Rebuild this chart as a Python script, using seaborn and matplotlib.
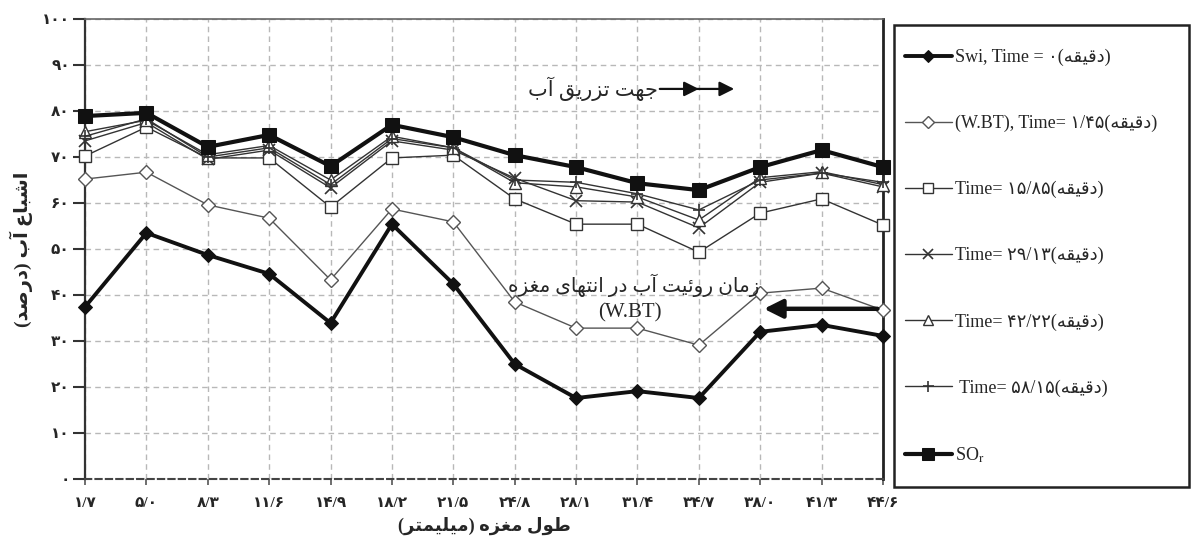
import matplotlib
matplotlib.use("Agg")
import matplotlib.pyplot as plt
from matplotlib.patches import Rectangle
import seaborn as sns
import pandas as pd

# ---------------- data ----------------
core_length_mm = [1.7, 5.0, 8.3, 11.6, 14.9, 18.2, 21.5, 24.8, 28.1, 31.4, 34.7, 38.0, 41.3, 44.6]
x_tick_labels = ["۱/۷", "۵/۰", "۸/۳", "۱۱/۶", "۱۴/۹", "۱۸/۲", "۲۱/۵",
                 "۲۴/۸", "۲۸/۱", "۳۱/۴", "۳۴/۷", "۳۸/۰", "۴۱/۳", "۴۴/۶"]
y_ticks = [0, 10, 20, 30, 40, 50, 60, 70, 80, 90, 100]
y_tick_labels = ["۰", "۱۰", "۲۰", "۳۰", "۴۰", "۵۰", "۶۰", "۷۰", "۸۰", "۹۰", "۱۰۰"]

swi_t0 = [37.4, 53.5, 48.7, 44.6, 33.9, 55.4, 42.4, 25.0, 17.6, 19.1, 17.6, 32.0, 33.5, 31.1]
wbt_t145 = [65.2, 66.7, 59.6, 56.7, 43.3, 58.7, 55.9, 38.5, 32.8, 32.8, 29.1, 40.4, 41.5, 36.7]
t_1585 = [70.2, 76.5, 69.8, 69.8, 59.1, 69.8, 70.4, 60.9, 55.4, 55.4, 49.3, 57.8, 60.9, 55.2]
t_2913 = [73.5, 77.5, 69.5, 71.5, 63.3, 73.5, 71.5, 65.4, 60.5, 60.2, 54.6, 64.5, 66.5, 63.5]
t_4222 = [75.5, 78.0, 70.5, 72.5, 65.0, 74.5, 72.0, 64.4, 63.5, 61.3, 56.3, 65.5, 66.8, 64.0]
t_5815 = [74.5, 78.3, 70.0, 72.0, 64.0, 74.0, 72.0, 65.0, 64.5, 62.0, 58.5, 65.0, 66.5, 64.5]
sor = [78.9, 79.6, 72.2, 74.8, 68.0, 77.0, 74.3, 70.4, 67.8, 64.3, 62.8, 67.8, 71.5, 67.8]

minute_word = "دقیقه"
legend_prefixes = ["Swi, Time = ۰", "(W.BT), Time= ۱/۴۵", "Time= ۱۵/۸۵",
                   "Time= ۲۹/۱۳", "Time= ۴۲/۲۲", " Time= ۵۸/۱۵"]
sor_label = r"SO$_\mathrm{r}$"
x_title = "طول مغزه (میلیمتر)"
y_title = "اشباع آب (درصد)"
injection_text = "جهت تزریق آب"
wbt_text = "زمان روئیت آب در انتهای مغزه"
wbt_abbrev = "(W.BT)"

# ---------------- simple Persian shaping (visual order) ----------------
FORMS = {
    'آ': ('\uFE81', '\uFE82'), 'ا': ('\uFE8D', '\uFE8E'),
    'ب': ('\uFE8F', '\uFE90', '\uFE91', '\uFE92'), 'ت': ('\uFE95', '\uFE96', '\uFE97', '\uFE98'),
    'ج': ('\uFE9D', '\uFE9E', '\uFE9F', '\uFEA0'), 'د': ('\uFEA9', '\uFEAA'),
    'ر': ('\uFEAD', '\uFEAE'), 'ز': ('\uFEAF', '\uFEB0'),
    'ش': ('\uFEB5', '\uFEB6', '\uFEB7', '\uFEB8'), 'ص': ('\uFEB9', '\uFEBA', '\uFEBB', '\uFEBC'),
    'ط': ('\uFEC1', '\uFEC2', '\uFEC3', '\uFEC4'), 'ع': ('\uFEC9', '\uFECA', '\uFECB', '\uFECC'),
    'غ': ('\uFECD', '\uFECE', '\uFECF', '\uFED0'), 'ق': ('\uFED5', '\uFED6', '\uFED7', '\uFED8'),
    'ل': ('\uFEDD', '\uFEDE', '\uFEDF', '\uFEE0'), 'م': ('\uFEE1', '\uFEE2', '\uFEE3', '\uFEE4'),
    'ن': ('\uFEE5', '\uFEE6', '\uFEE7', '\uFEE8'), 'ه': ('\uFEE9', '\uFEEA', '\uFEEB', '\uFEEC'),
    'و': ('\uFEED', '\uFEEE'), 'ی': ('\uFBFC', '\uFBFD', '\uFBFE', '\uFBFF'),
    'ئ': ('\uFE89', '\uFE8A', '\uFE8B', '\uFE8C'),
}


def fa(s):
    out = []
    for i, c in enumerate(s):
        f = FORMS.get(c)
        if f is None:
            out.append(c)
            continue
        prev = s[i - 1] if i > 0 else ''
        nxt = s[i + 1] if i + 1 < len(s) else ''
        jp = prev in FORMS and len(FORMS[prev]) == 4
        jn = len(f) == 4 and nxt in FORMS
        if jp and jn:
            out.append(f[3])
        elif jp:
            out.append(f[1])
        elif jn:
            out.append(f[2])
        else:
            out.append(f[0])
    vis = ''.join(reversed(out))
    return vis.translate(str.maketrans('()', ')('))


# ---------------- style ----------------
sns.set_style("white")
plt.rcParams['font.family'] = ['Liberation Serif', 'DejaVu Sans']
plt.rcParams['mathtext.fontset'] = 'stix'

W, H = 1193, 545
fig = plt.figure(figsize=(W / 100, H / 100), dpi=100)
ax = fig.add_axes([85 / W, 1 - 479 / H, (883 - 85) / W, (479 - 19) / H])

series = [
    (swi_t0, legend_prefixes[0] + fa("(" + minute_word + ")"),
     dict(color='#111111', lw=2.8, marker='D', ms=7, mfc='#111111', mec='#111111')),
    (wbt_t145, legend_prefixes[1] + fa("(" + minute_word + ")"),
     dict(color='#555555', lw=1.0, marker='D', ms=7, mfc='white', mec='#555555', mew=1.0)),
    (t_1585, legend_prefixes[2] + fa("(" + minute_word + ")"),
     dict(color='#333333', lw=1.0, marker='s', ms=8, mfc='white', mec='#333333', mew=1.0)),
    (t_2913, legend_prefixes[3] + fa("(" + minute_word + ")"),
     dict(color='#333333', lw=1.0, marker='x', ms=8, mec='#333333', mew=1.2)),
    (t_4222, legend_prefixes[4] + fa("(" + minute_word + ")"),
     dict(color='#333333', lw=1.0, marker='^', ms=8, mfc='white', mec='#333333', mew=1.0)),
    (t_5815, legend_prefixes[5] + fa("(" + minute_word + ")"),
     dict(color='#333333', lw=1.0, marker='+', ms=9, mec='#333333', mew=1.2)),
    (sor, sor_label,
     dict(color='#111111', lw=3.0, marker='s', ms=10, mfc='#111111', mec='#111111')),
]

for vals, label, st in series:
    df = pd.DataFrame({'x': core_length_mm, 'y': vals})
    sns.lineplot(data=df, x='x', y='y', ax=ax, label=label, sort=False,
                 clip_on=False, zorder=3, **st)

ax.set_xlim(core_length_mm[0], core_length_mm[-1])
ax.set_ylim(y_ticks[0], y_ticks[-1])
ax.set_xticks(core_length_mm)
ax.set_xticklabels(x_tick_labels, fontsize=11, fontweight='bold')
ax.set_yticks(y_ticks)
ax.set_yticklabels(y_tick_labels, fontsize=11, fontweight='bold')
ax.tick_params(axis='y', direction='out', length=9, width=1.5, color='#333333', pad=2, left=True)
ax.tick_params(axis='x', direction='out', length=4, width=1.2, color='#555555', pad=9, bottom=True)

ax.grid(True, color='#b8b8b8', linestyle=(0, (4, 3)), linewidth=1.0)
ax.spines['left'].set_color('#333333')
ax.spines['left'].set_linewidth(1.6)
ax.spines['top'].set_color('#666666')
ax.spines['top'].set_linewidth(1.2)
ax.spines['right'].set_color('#222222')
ax.spines['right'].set_linewidth(2.0)
ax.spines['bottom'].set_color('#444444')
ax.spines['bottom'].set_linewidth(1.5)
ax.spines['bottom'].set_linestyle((0, (3, 2)))

ax.set_xlabel(fa(x_title), fontsize=13, fontweight='bold', labelpad=5)
ax.set_ylabel(fa(y_title), fontsize=14, fontweight='bold', labelpad=6)

# annotations
ax.text(32.5, 84.8, fa(injection_text), fontsize=15, ha='right', va='center')
ax.annotate('', xy=(34.7, 84.8), xytext=(32.6, 84.8),
            arrowprops=dict(arrowstyle='-|>', lw=1.6, color='#111111', mutation_scale=22,
                            shrinkA=0, shrinkB=0))
ax.annotate('', xy=(36.6, 84.8), xytext=(34.6, 84.8),
            arrowprops=dict(arrowstyle='-|>', lw=1.6, color='#111111', mutation_scale=22,
                            shrinkA=0, shrinkB=0))
ax.text(31.2, 42.2, fa(wbt_text), fontsize=14.5, ha='center', va='center')
ax.text(31.0, 36.1, wbt_abbrev, fontsize=15, ha='center', va='center')
ax.annotate('', xy=(38.2, 37.0), xytext=(44.3, 37.0),
            arrowprops=dict(arrowstyle='-|>', lw=3.2, color='#111111', mutation_scale=28,
                            shrinkA=0, shrinkB=0))

# legend
handles, labels = ax.get_legend_handles_labels()
ax.legend(handles, labels, loc='upper left', bbox_to_anchor=(905 / W, 1 - 49 / H),
          bbox_transform=fig.transFigure, frameon=False, fontsize=13,
          labelspacing=2.7, handlelength=2.6, handletextpad=0.15, borderpad=0,
          borderaxespad=0, markerscale=0.88)
fig.patches.append(Rectangle((894 / W, 1 - 487 / H), (1189 - 894) / W, (487 - 25) / H,
                             transform=fig.transFigure, fill=False, lw=1.8,
                             edgecolor='#222222'))

fig.savefig('out.png', dpi=100)
